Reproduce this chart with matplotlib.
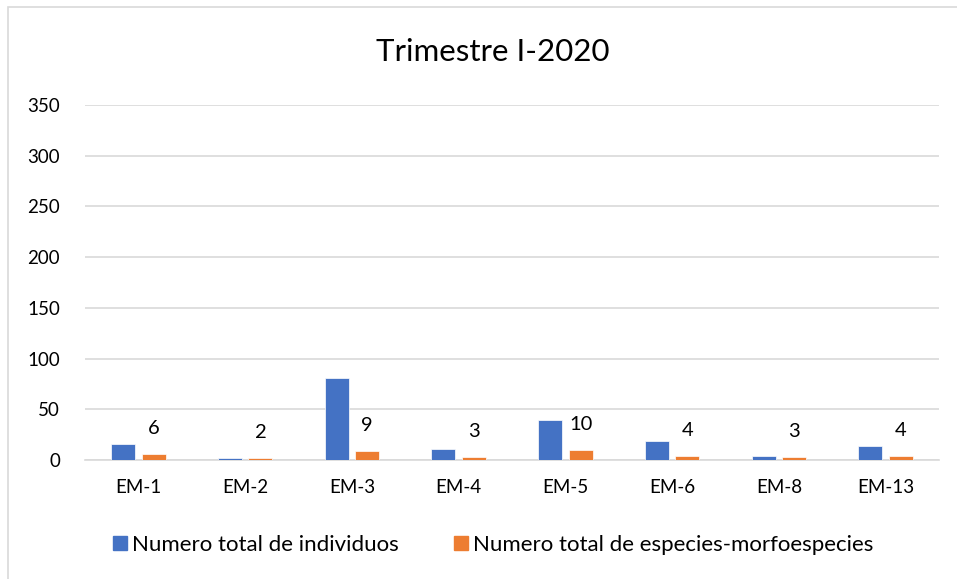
import numpy as np
import matplotlib.pyplot as plt
from matplotlib.patches import Rectangle

plt.rcParams['font.family'] = ['Lato', 'DejaVu Sans']

# datos
estaciones = ['EM-1', 'EM-2', 'EM-3', 'EM-4', 'EM-5', 'EM-6', 'EM-8', 'EM-13']
individuos = [16, 2, 81, 11, 39, 19, 4, 14]
especies = [6, 2, 9, 3, 10, 4, 3, 4]

azul = '#4472c4'
naranja = '#ed7d31'

fig = plt.figure(figsize=(9.57, 5.79), dpi=100)
ax = fig.add_axes([85 / 957, 1 - 460 / 579, 854 / 957, 355 / 579])

x = np.arange(len(estaciones))
w = 0.225
ax.bar(x - 0.143, individuos, w, color=azul, edgecolor='white', linewidth=0.5, zorder=3)
ax.bar(x + 0.143, especies, w, color=naranja, edgecolor='white', linewidth=0.5, zorder=3)

# etiquetas de la segunda serie
for xi, v in zip(x + 0.143, especies):
    ax.annotate(str(v), (xi, v), xytext=(0, 18), textcoords='offset points',
                ha='center', va='center', fontsize=14.5, color='#000000')

ax.set_xlim(-0.5, len(estaciones) - 0.5)
ax.set_ylim(0, 350)
ax.set_yticks(range(0, 351, 50))
ax.set_xticks(x)
ax.set_xticklabels(estaciones)
ax.tick_params(axis='both', length=0, labelsize=13.5, colors='#000000')
ax.tick_params(axis='y', pad=18)
ax.tick_params(axis='x', pad=14)
ax.grid(axis='y', color='#d9d9d9', linewidth=1.2, zorder=0)
for s in ['top', 'right', 'left']:
    ax.spines[s].set_visible(False)
ax.spines['bottom'].set_color('#d9d9d9')
ax.spines['bottom'].set_linewidth(1.2)

fig.text(0.515, 1 - 52 / 579, 'Trimestre I-2020', ha='center', va='center',
         fontsize=22.5, color='#000000')

handles = [Rectangle((0, 0), 1, 1, color=azul), Rectangle((0, 0), 1, 1, color=naranja)]
fig.legend(handles, ['Numero total de individuos', 'Numero total de especies-morfoespecies'],
           loc='center left', bbox_to_anchor=(113 / 957, 1 - 545 / 579), ncol=2,
           frameon=False, borderpad=0, borderaxespad=0,
           fontsize=16, handlelength=0.63, handleheight=0.63, handletextpad=0.22,
           columnspacing=2.5)

# marco del grafico (bordes derecho e inferior fuera de la imagen)
fig.patches.append(Rectangle((8 / 957, -0.05), 1.1, 1.05 - 7 / 579, transform=fig.transFigure,
                             fill=False, edgecolor='#d9d9d9', linewidth=1.2))

fig.savefig('out.png', dpi=100)
